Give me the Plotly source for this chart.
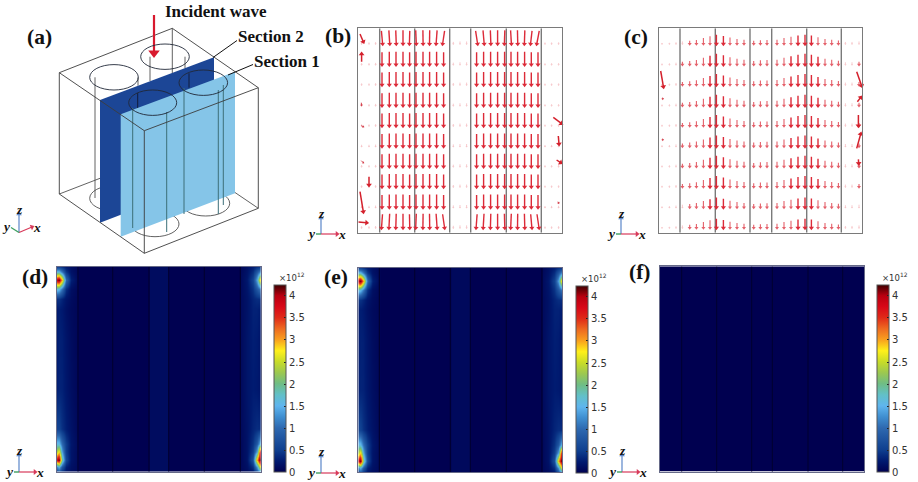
import math
import numpy as np
import plotly.graph_objects as go

W, H = 918, 482
SERIF = "Liberation Serif"

# ---------- panels b / c : arrow field ----------
field_columns_b = [3.3,10.7,17.3,23.7,31,37.7,44.7,51.3,57.7,64.7,71.3,78.3,85.3,95,101.7,108.3,118.3,125.3,132.3,139.3,146.3,152.7,159.3,166.3,173,179.7,186.7,193.3,200.3]
field_rows = [188.7,168,147.7,127,106.7,86.3,66,45.7,25.3,4.7]
lengths_b = [1.6,1.6,1.8,12.5,13,13,13,12.5,13,13,13,13,12.5,2,2.4,2.4,12.5,13,13,13,13,13,13,13,12.5,12.5,1.4,1.5,1.6]
lengths_c = [1.2,1.4,2,3,3.8,4.8,7,9,11,9.5,7.5,6,5,3.8,4.4,4.6,5,7,8.5,10,11,10,8,6,5,4,2.4,2.4,3]
row_scale_b = [1.05,1,1,1,1,1,1,1,1,1.1]
row_scale_c = [.85,1,1,1,1,1,1,1,.9,.85]
top_tilt = [0,0,0,1.2,.9,.5,0,-.4,.6,.2,-.2,-1,-2,0,0,0,2,1.2,.5,0,-.5,.8,.3,-.5,-1.5,-2.5,0,0,0]
bottom_tilt = [0,0,0,-1,-.7,-.4,0,.3,-.6,-.2,.2,1,2,0,0,0,-1,-.8,-.4,0,.4,-.6,-.2,.4,1.2,2,0,0,0]
special_b = [(1.7,41,5,21),(0,10.7,8.3,10),(1.7,198.7,5,191),(3.3,171,3.3,178.7),(195,115.3,203,109.3),
             (200,96.7,200.7,88.7),(198.3,72.7,202.3,70),(10.7,56,10.7,47.7)]
dots_b = [(199.7,31,200.3,29.7),(3,130,3.2,127.5),(3,107,5,106),(3,72,5,70)]
special_c = [(2,161.7,4.7,146),(198,161,203,146.7),(199.7,117.7,199.7,107),(198,84.3,202,98.7),
             (199.7,73.3,200,69.3),(198.7,131,202,135.3)]
dots_c = [(3,134,4.2,134),(3,93,4.2,93)]
grid_b = [21.4,56.4,91.4,112.4,148,183]
grid_c = [21.3,56.6,91.3,113,148,182.6]
grid_d = [21.3,56,92.3,112,147.6,183.6]
grid_e = [21,56.4,92,112,148,183.7]
grid_f = [21.7,56.7,91.7,112.3,148,182.7]

# ---------- panels d / e / f : |E| field x 1e12 ----------
hm_y = [0,5,12,20,28,43,83,133,163,173,183,192,200,205]
hm_x_left = [0,2,5,9,14,21]
hm_x_mid = [21.6,60,92,92.6,111,111.6,183]
hm_x_right = [183.6,190,196,200,202.5,204]
field_left = [
 [.6,.8,.4,.22,.14,.09],[1.2,1.5,.8,.3,.16,.1],[3.8,4.2,2.0,.6,.2,.1],[2.4,2.8,1.4,.5,.2,.1],
 [1.6,1.6,1.0,.5,.22,.1],[.55,.55,.4,.28,.18,.08],[.28,.32,.3,.22,.14,.07],[.25,.3,.28,.2,.12,.06],
 [.25,.28,.24,.16,.1,.06],[.4,.42,.32,.2,.12,.06],[1.7,1.6,1.1,.4,.15,.07],[3.9,4.2,3.0,1.0,.3,.09],
 [1.6,1.6,1.1,.45,.18,.08],[.55,.55,.42,.26,.16,.08]]
field_right = [
 [.07,.12,.22,.7,1.3,.7],[.08,.15,.4,1.3,2.6,1.5],[.08,.18,.7,3.0,4.2,3.6],[.08,.18,.5,1.4,3.6,3.0],
 [.08,.18,.42,.8,1.5,1.1],[.09,.18,.32,.38,.36,.3],[.1,.2,.26,.24,.2,.16],[.1,.2,.28,.26,.2,.16],
 [.1,.18,.3,.3,.26,.2],[.1,.18,.32,.38,.38,.3],[.1,.2,.42,.8,1.1,.8],[.1,.22,.55,1.4,2.8,2.2],
 [.09,.18,.38,.8,1.2,.8],[.08,.16,.28,.4,.45,.32]]
field_mid_d = [.01,.01,.01,.12,.12,.01,.01]
field_mid_e = [.01,.01,.01,.09,.09,.01,.01]
field_zero = [[0,0],[0,0]]
cbar_ticks = [0,.5,1,1.5,2,2.5,3,3.5,4]
cbar_max = 4.24
cmap_values = [0,.25,.5,1,1.25,1.5,1.75,2,2.25,2.5,2.75,3,3.25,3.5,3.75,4,4.24]
cmap_colors = ["#000050","#001a70","#0f3f8f","#2e69b0","#3f8ed0","#5fb5ee","#62c0c8","#6fbd85","#9cc850",
               "#c8dc28","#fff01a","#f9a01e","#ee6a20","#e02a18","#d80818","#b80010","#400000"]

# ---------- panel a : schematic, in page units ----------
box_back = [[(172.3,28.3),(172.3,73)],[(59.3,194),(100,178.3)],[(235,192.5),(258.3,208.3)],
            [(95,77.3),(95,198)],[(138,77.3),(138,85.7)],[(150,56.7),(150,81)],[(185,56.7),(185,68.3)]]
box_front = [[(59.3,72.7),(172.3,28.3),(258.3,87.7),(144.3,130.7),(59.3,72.7)],
             [(59.3,72.7),(59.3,194),(144.3,253.3),(258.3,208.3),(258.3,87.7)],[(144.3,130.7),(144.3,253.3)]]
rods_in_plane = [[(132.7,108),(132.7,228)],[(166.7,112),(166.7,232)],[(184,88),(184,214)],[(218.3,90),(218.3,214)],[(223.3,85),(223.3,205)]]
rods_on_dark = [[(137.7,93),(137.7,108)],[(189,73.3),(189,87.7)]]
section2 = [(100,100),(214,57.3),(214,179),(100,222.7)]
section1 = [(120.7,114.3),(235,71.7),(235,193.3),(120.7,236.7)]
ellipses_top = [(114,77.3,24.3,12.7),(165,56.7,24.3,12.7),(152.7,102.7,24,12.7),(203.3,82.7,24.3,12.7)]
ellipses_bottom = [(114,198.3,24.3,12.7),(155,224,24,12.7),(205.7,203.3,24,12.7)]
leaders = [[(213,57.5),(237,40.5)],[(228,75),(253,64.5)]]
incident = (154,15,154,53)
triads = [(19,232.5,19,214,32,227,11,227.5),(321,234,321,218,337,234,316,234),(621,234,621,218,637,234,616,234),
          (19,472,19,455,35,472,14,472),(321,473,321,456,337,473,316,473),(622,472,622,455,638,472,617,472)]
labels = [("(a)",39,37),("(b)",338,36),("(c)",636,37),("(d)",35,277),("(e)",336,277),("(f)",639,272)]
notes = [("Incident wave",215.5,11),("Section 2",270.5,36),("Section 1",286.5,61)]

panels = {2:(358.3,562.3,28.3,232.7),3:(658.7,862.3,28.3,232.7),4:(56.7,261,266.7,471.7),
          5:(358.3,562.3,267.7,472.3),6:(660,864,266.3,471.7)}
cbars = [(273.7,285,472.3),(575.7,286,473.3),(877,285,472.3)]

fig = go.Figure()

def seg_trace(segs, color, width, xa="x", ya="y"):
    xs, ys = [], []
    for s in segs:
        xs += [p[0] for p in s] + [None]
        ys += [p[1] for p in s] + [None]
    fig.add_trace(go.Scatter(x=xs, y=ys, mode="lines", xaxis=xa, yaxis=ya, hoverinfo="skip", showlegend=False,
                             line=dict(color=color, width=width)))

def poly(pts, color):
    fig.add_trace(go.Scatter(x=[p[0] for p in pts], y=[p[1] for p in pts], mode="lines", fill="toself",
                             fillcolor=color, line=dict(width=0), hoverinfo="skip", showlegend=False))

def arrows(items, color, width, size, xa="x", ya="y", flip=False):
    if not items:
        return
    xs, ys, ang = [], [], []
    for x0, y0, x1, y1 in items:
        xs += [x0, x1, None]
        ys += [y0, y1, None]
        ang.append(math.degrees(math.atan2(x1-x0, (y0-y1) if flip else (y1-y0))))
    fig.add_trace(go.Scatter(x=xs, y=ys, mode="lines", xaxis=xa, yaxis=ya, hoverinfo="skip", showlegend=False,
                             line=dict(color=color, width=width)))
    fig.add_trace(go.Scatter(x=[i[2] for i in items], y=[i[3] for i in items], mode="markers", xaxis=xa, yaxis=ya,
                             hoverinfo="skip", showlegend=False, cliponaxis=False,
                             marker=dict(symbol="triangle-up", angle=ang, size=size, color=color, line=dict(width=0))))

def field(n, lengths, scale, specials, dots, grid, tilt):
    xa, ya = f"x{n}", f"y{n}"
    seg_trace([[(g,0),(g,204.4)] for g in grid], "#7a7a7a", 1.4, xa, ya)
    tiers = {0:[],1:[],2:[]}
    for r, tip in enumerate(field_rows):
        for c, x in enumerate(field_columns_b):
            L = lengths[c]*scale[r]
            dx = 0
            if tilt and r == 0: dx = top_tilt[c]
            if tilt and r == 9: dx = bottom_tilt[c]
            t = 0 if L >= 8 else (1 if L >= 3 else 2)
            tiers[t].append((x-dx/2, tip+L, x+dx/2, tip))
    arrows(tiers[2], "#f6c4c7", .9, 2, xa, ya)
    arrows(tiers[1], "#e4606a", 1.1, 3.5, xa, ya)
    arrows(tiers[0], "#dc2a38", 1.4, 4.5, xa, ya)
    arrows(specials, "#d4202c", 1.5, 5, xa, ya)
    arrows(dots, "#d4404c", 1, 2.5, xa, ya)

# panel a
seg_trace(box_back, "#505050", .9)
poly(section2, "#1c4696")
seg_trace(rods_on_dark, "#101c3c", 1)
poly(section1, "#85c5e8")
seg_trace(rods_in_plane, "#3c6f78", 1)
seg_trace(box_front, "#3c3c3c", .9)
seg_trace(leaders, "#111111", 1)
arrows([incident], "#d8192e", 2.2, 10, flip=True)
for (ox,oy,zx,zy,xx,xy,yx,yy) in triads:
    arrows([(ox,oy,zx,zy)], "#5b86c9", 1.2, 5, flip=True)
    arrows([(ox,oy,xx,xy)], "#d83a5a", 1.2, 5, flip=True)
    seg_trace([[(ox,oy),(yx,yy)]], "#3fa060", 1.4)

field(2, lengths_b, row_scale_b, special_b, dots_b, grid_b, True)
field(3, lengths_c, row_scale_c, special_c, dots_c, grid_c, False)

# heatmaps
stops = [[v/cbar_max, c] for v, c in zip(cmap_values, cmap_colors)]
hm_x = hm_x_left + hm_x_mid + hm_x_right
def matrix(mid):
    return [l + mid + r for l, r in zip(field_left, field_right)]
sources = {4:(hm_x, hm_y, matrix(field_mid_d), grid_d), 5:(hm_x, hm_y, matrix(field_mid_e), grid_e),
           6:([0,204],[0,205], field_zero, grid_f)}
for (n, (xv, yv, zv, grid)), (cx, ct, cb) in zip(sources.items(), cbars):
    fig.add_trace(go.Heatmap(x=xv, y=yv, z=zv, xaxis=f"x{n}", yaxis=f"y{n}", zmin=0, zmax=cbar_max, zsmooth="best",
        colorscale=stops, hoverinfo="skip",
        colorbar=dict(x=cx/W, xanchor="left", xpad=0, y=(H-cb)/H, yanchor="bottom", ypad=0, len=(cb-ct)/H, lenmode="fraction",
                      thickness=11.6, thicknessmode="pixels", tickvals=cbar_ticks, ticktext=[f"{t:g}" for t in cbar_ticks],
                      ticks="inside", ticklen=2, tickcolor="#222", tickwidth=1, outlinecolor="#555", outlinewidth=1,
                      tickfont=dict(family="DejaVu Sans", size=10, color="#333"))))
    seg_trace([[(g,0),(g,205)] for g in grid], "#00002e", 1, f"x{n}", f"y{n}")

ann = []
for t, x, y in labels:
    ann.append(dict(text=f"<b>{t}</b>", x=x, y=y, font=dict(family=SERIF, size=21.5, color="#111")))
for t, x, y in notes:
    ann.append(dict(text=f"<b>{t}</b>", x=x, y=y, font=dict(family=SERIF, size=17, color="#111")))
for (ox,oy,zx,zy,xx,xy,yx,yy) in triads:
    for t, ax, ay in (("z",zx,zy-5),("x",xx+5,xy),("y",yx-5,yy-1)):
        ann.append(dict(text=f"<b><i>{t}</i></b>", x=ax, y=ay, font=dict(family=SERIF, size=13.5, color="#111")))
for cx, ct, cb in cbars:
    ann.append(dict(text="×10<sup>12</sup>", x=cx+18, y=ct-8, font=dict(family="DejaVu Sans", size=8.5, color="#333")))
for a in ann:
    a.update(xref="x", yref="y", showarrow=False, xanchor="center", yanchor="middle")

shapes = []
for ex, ey, rx, ry in ellipses_bottom:
    shapes.append(dict(type="circle", xref="x", yref="y", x0=ex-rx, x1=ex+rx, y0=ey-ry, y1=ey+ry, layer="below",
                       line=dict(color="#505050", width=.9)))
for ex, ey, rx, ry in ellipses_top:
    shapes.append(dict(type="circle", xref="x", yref="y", x0=ex-rx, x1=ex+rx, y0=ey-ry, y1=ey+ry, layer="above",
                       line=dict(color="#202838", width=.9)))

layout = dict(width=W, height=H, margin=dict(l=0, r=0, t=0, b=0), paper_bgcolor="white", plot_bgcolor="rgba(0,0,0,0)",
              showlegend=False, annotations=ann, shapes=shapes,
              xaxis=dict(domain=[0,1], range=[0,W], visible=False, fixedrange=True),
              yaxis=dict(domain=[0,1], range=[H,0], visible=False, fixedrange=True))
for n, (l, r, t, b) in panels.items():
    is_map = n >= 4
    edge = "#666a88" if is_map else "#7a7a7a"
    common = dict(showgrid=False, zeroline=False, showticklabels=False, ticks="", showline=True, mirror=True,
                  linecolor=edge, linewidth=1 if is_map else 1.4, fixedrange=True)
    layout[f"xaxis{n}"] = dict(domain=[l/W, r/W], range=[0, r-l], anchor=f"y{n}", **common)
    layout[f"yaxis{n}"] = dict(domain=[(H-b)/H, (H-t)/H], range=[0, b-t], anchor=f"x{n}", **common)
fig.update_layout(**layout)
fig.write_html("out.html", config={"displayModeBar": False},
               post_script="document.body.style.margin='0';document.documentElement.style.overflow='hidden';")
